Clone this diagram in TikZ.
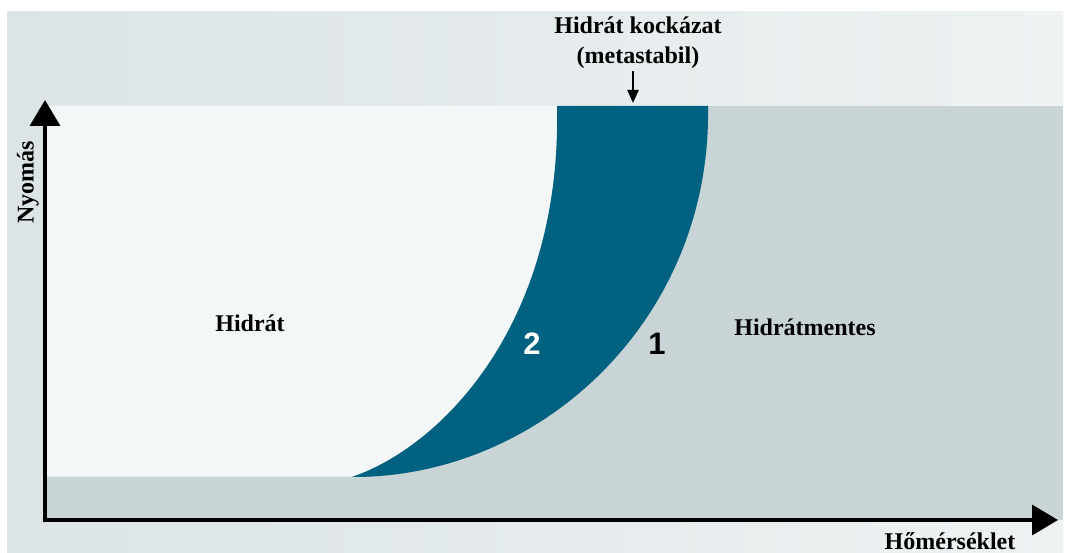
\documentclass[tikz,border=0pt]{standalone}
\usepackage{fontspec}
\setmainfont{Liberation Serif}
\setsansfont{Liberation Sans}
\usetikzlibrary{arrows.meta}
\definecolor{bgA}{HTML}{DCE4E6}
\definecolor{bgB}{HTML}{EEF2F3}
\definecolor{plotw}{HTML}{F4F7F8}
\definecolor{grayr}{HTML}{C9D4D7}
\definecolor{bandteal}{HTML}{006180}
\begin{document}
\begin{tikzpicture}[x=1pt,y=-1pt,
  lbl/.style={font=\fontsize{24}{30}\selectfont\bfseries, text=black, inner sep=2pt},
  num/.style={font=\fontsize{31}{34}\selectfont\sffamily\bfseries, inner sep=1pt},
  axisline/.style={line width=3.5pt}]
\useasboundingbox (0,0) rectangle (1066,553);
\shade[left color=bgA, right color=bgB] (7,12) rectangle (1063,553);
% plot regions
\fill[grayr] (45,106) rectangle (1063,520);
\fill[plotw] (45,106) -- (557,106) .. controls (562,320) and (445,445) .. (352,476.5) -- (45,476.5) -- cycle;
\fill[bandteal] (557,106) .. controls (562,320) and (445,445) .. (352,477) .. controls (540,478) and (712,320) .. (708,106) -- cycle;
% axes
\coordinate (ytip) at (45,100);
\coordinate (xtip) at (1058,520);
\draw[axisline, {Triangle[length=26pt,width=30pt]}-{Triangle[length=26pt,width=30pt]}] (ytip) |- (xtip);
% labels
\node[lbl, align=center] (risk) at (638,43) {Hidrát kockázat\\(metastabil)};
\coordinate (risktip) at (633,103);
\draw[line width=2pt, -{Triangle[length=13pt,width=11pt]}] (risk.south -| risktip) -- (risktip);
\node[lbl, rotate=90] (p) at (28,182) {Nyomás};
\node[lbl] (t) at (950,541) {Hőmérséklet};
\node[lbl] (h) at (250,323) {Hidrát};
\node[lbl] (hm) at (805,327) {Hidrátmentes};
\node[num, text=white] (n2) at (532,344) {2};
\node[num, text=black] (n1) at (657,344) {1};
\end{tikzpicture}
\end{document}
